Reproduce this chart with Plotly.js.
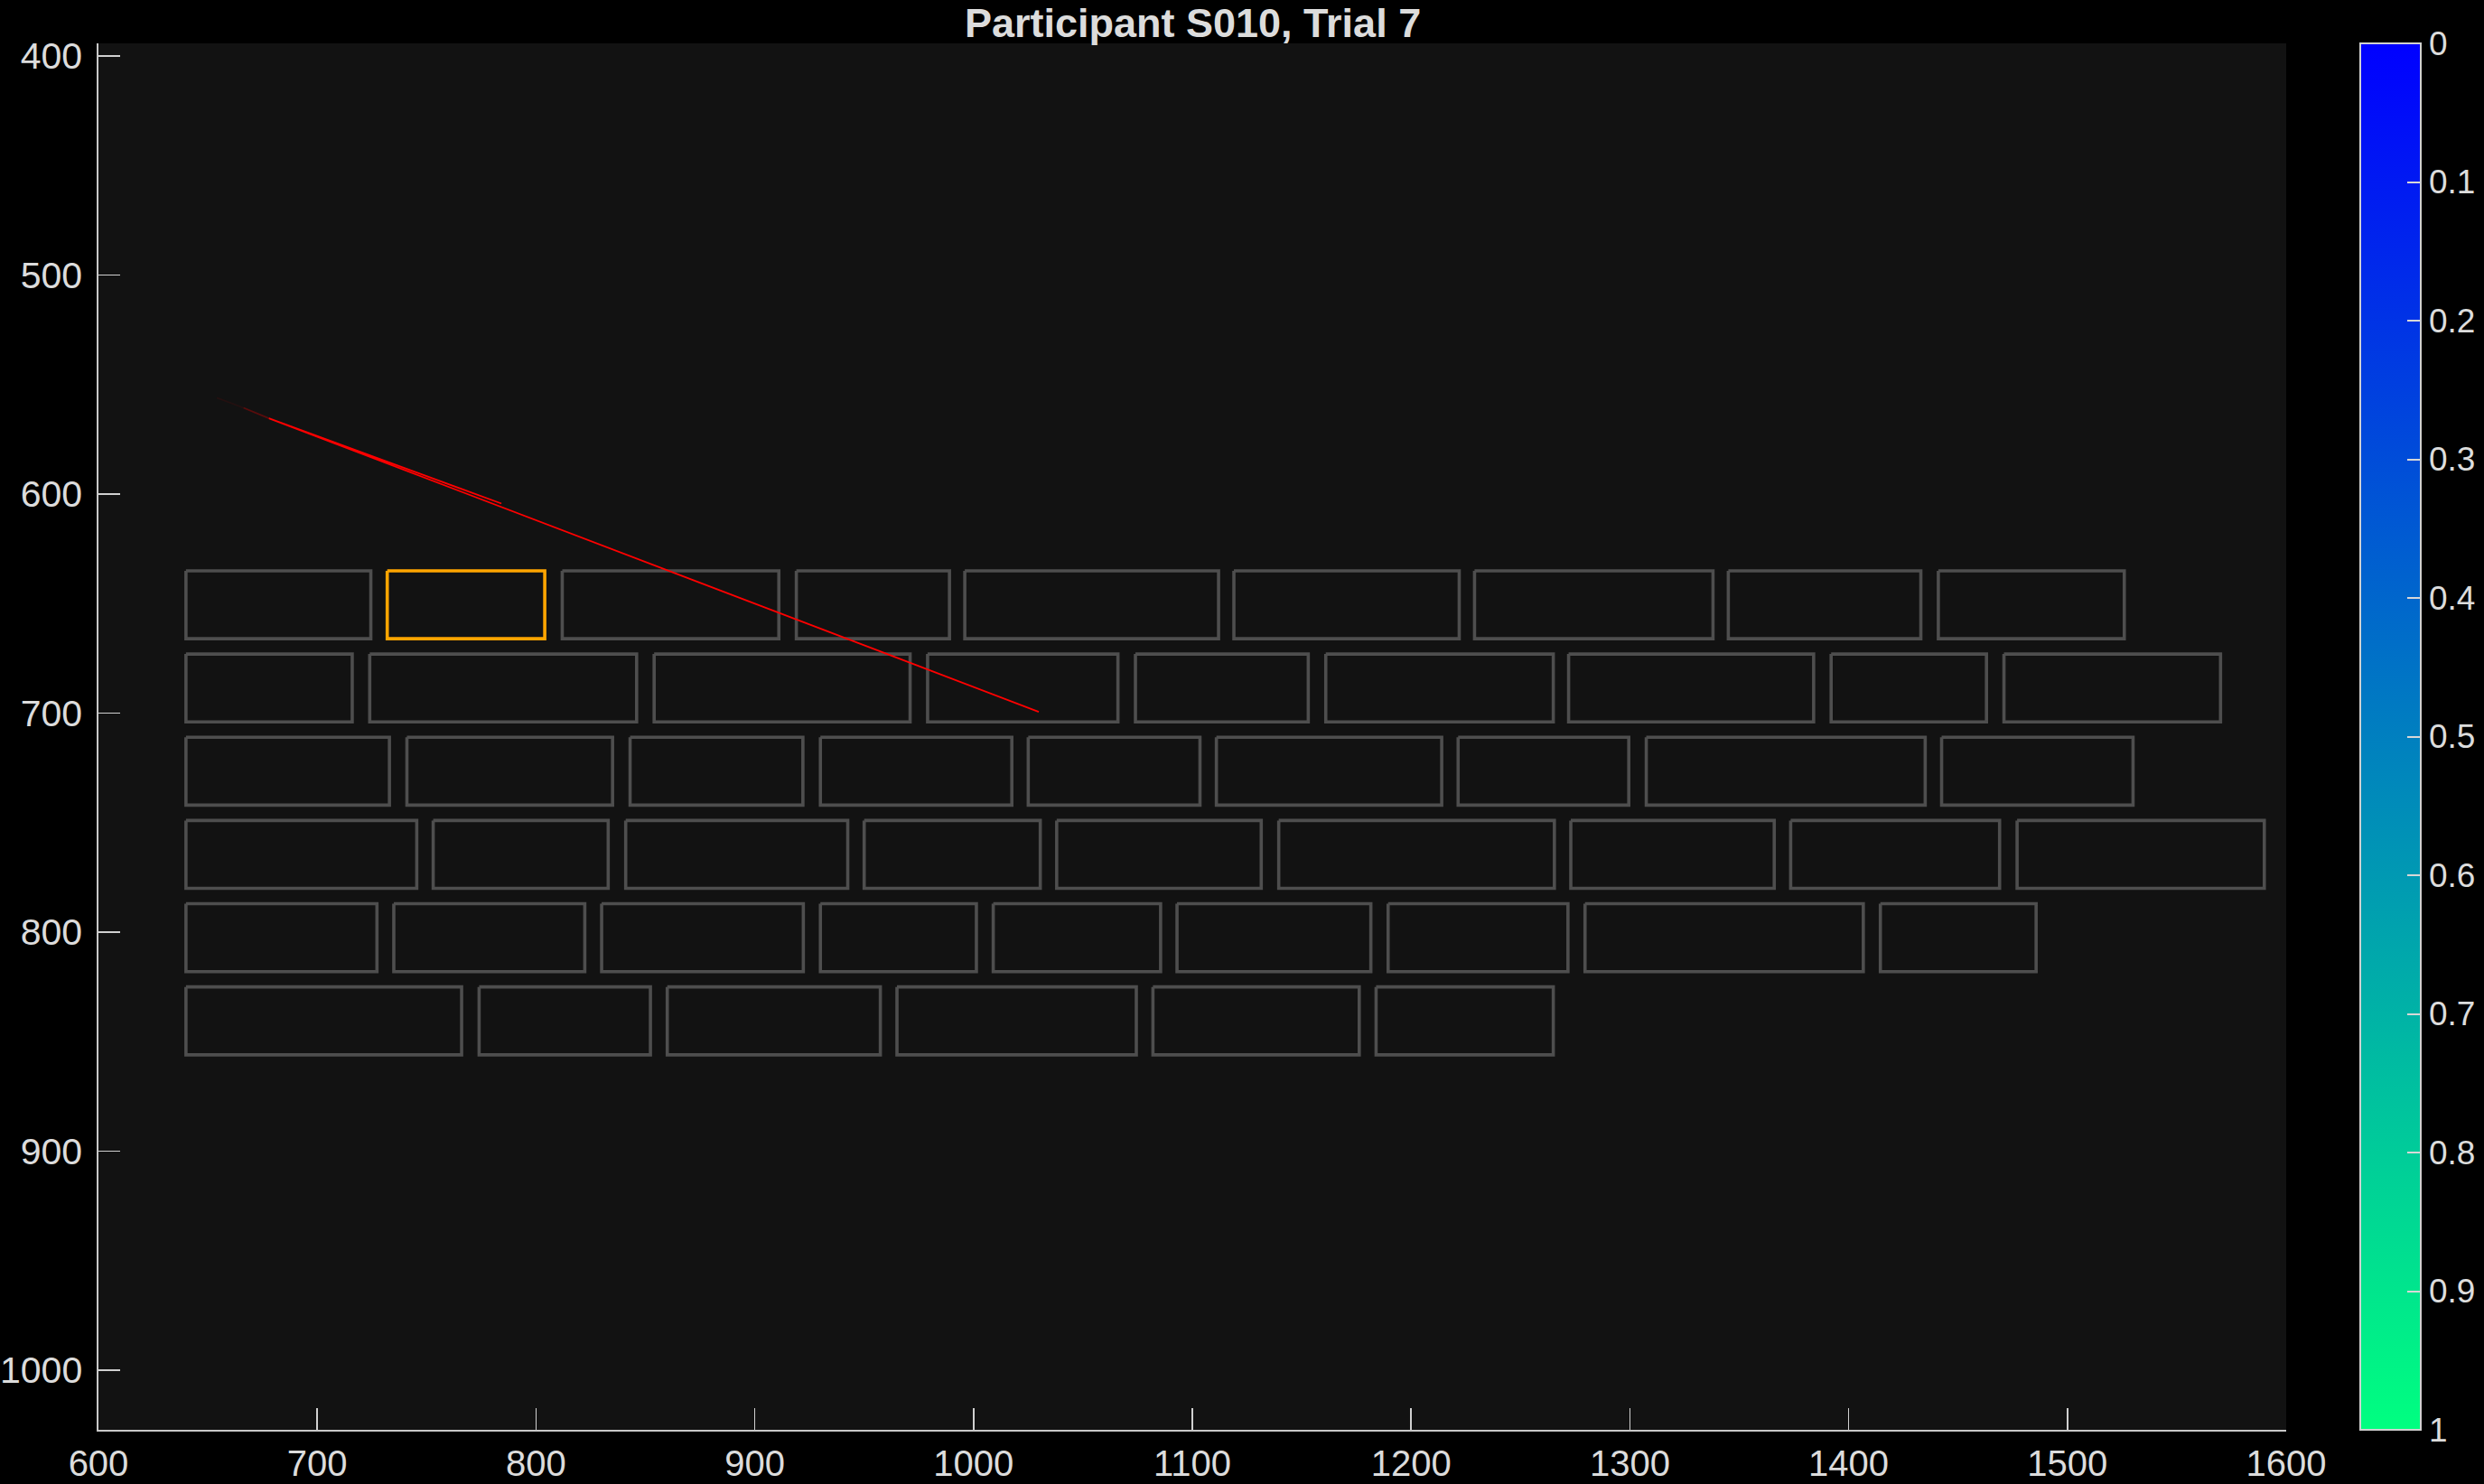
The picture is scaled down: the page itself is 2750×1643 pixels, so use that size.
<!DOCTYPE html>
<html><head><meta charset="utf-8">
<script src="https://cdn.plot.ly/plotly-3.0.1.min.js"></script>
<style>html,body{margin:0;padding:0;background:#000;overflow:hidden;}</style>
</head><body><div id="chart" style="width:2750px;height:1643px;"></div>
<script>
// ---- data ----
const rowTop    = [635, 673, 711, 749, 787, 825];
const rowBottom = [666, 704, 742, 780, 818, 856];

const boxRow   = [0,0,0,0,0,0,0,0,0,
                  1,1,1,1,1,1,1,1,1,
                  2,2,2,2,2,2,2,2,2,
                  3,3,3,3,3,3,3,3,3,
                  4,4,4,4,4,4,4,4,4,
                  5,5,5,5,5,5];
const boxLeft  = [640, 732, 812, 919, 996, 1119, 1229, 1345, 1441,
                  640, 724, 854, 979, 1074, 1161, 1272, 1392, 1471,
                  640, 741, 843, 930, 1025, 1111, 1221.5, 1307.5, 1442.5,
                  640, 753, 841, 950, 1038, 1139.5, 1273, 1373.5, 1477,
                  640, 735, 830, 930, 1009, 1093, 1189.5, 1279.5, 1414.5,
                  640, 774, 860, 965, 1082, 1184];
const boxRight = [724.5, 804, 911, 989, 1112, 1222, 1338, 1433, 1526,
                  716, 846, 971, 1066, 1153, 1265, 1384, 1463, 1570,
                  733, 835, 922, 1017.5, 1103.5, 1214, 1299.5, 1435, 1530,
                  745.5, 833, 942.5, 1030.5, 1131.5, 1265.5, 1366, 1469, 1590,
                  727.3, 822.3, 922.2, 1001.3, 1085.5, 1181.6, 1271.7, 1406.7, 1485.7,
                  766, 852.3, 957.4, 1074.4, 1176.3, 1265];
const targetIndex = 1;

const gazeFadeX = [654.1, 666.3, 677.9];
const gazeFadeY = [556.0, 560.6, 565.4];
const gazeX = [784.2, 677.9, 1029.8];
const gazeY = [604.3, 565.4, 699.4];

const xTicks = [600, 700, 800, 900, 1000, 1100, 1200, 1300, 1400, 1500, 1600];
const yTicks = [400, 500, 600, 700, 800, 900, 1000];
const cbarTicks = [0, 0.1, 0.2, 0.3, 0.4, 0.5, 0.6, 0.7, 0.8, 0.9, 1];
const titleText = 'Participant S010, Trial 7';

// ---- build ----
function boxPath(idxList) {
  const xs = [], ys = [];
  idxList.forEach(i => {
    const t = rowTop[boxRow[i]], b = rowBottom[boxRow[i]];
    xs.push(boxLeft[i], boxRight[i], boxRight[i], boxLeft[i], boxLeft[i], null);
    ys.push(t, t, b, b, t, null);
  });
  return {xs, ys};
}
const allIdx = boxLeft.map((_, i) => i).filter(i => i !== targetIndex);
const grey = boxPath(allIdx);
const tgt = boxPath([targetIndex]);

const font = 'Liberation Sans, Arial, Helvetica, sans-serif';
const txtColor = '#dcdcdc';

const traces = [
  {x: grey.xs, y: grey.ys, mode: 'lines', line: {color: '#4e4e4e', width: 3.6}, hoverinfo: 'skip'},
  {x: tgt.xs, y: tgt.ys, mode: 'lines', line: {color: '#ffa500', width: 3.6}, hoverinfo: 'skip'},
  {x: gazeFadeX.slice(0, 2), y: gazeFadeY.slice(0, 2), mode: 'lines', line: {color: 'rgba(255,0,0,0.08)', width: 1.8}},
  {x: gazeFadeX.slice(1, 3), y: gazeFadeY.slice(1, 3), mode: 'lines', line: {color: 'rgba(255,0,0,0.3)', width: 1.8}},
  {x: gazeX, y: gazeY, mode: 'lines', line: {color: '#ff0000', width: 1.8}},
  {x: gazeX.slice(0, 2), y: gazeY.slice(0, 2), mode: 'markers',
   marker: {size: 0, opacity: 0, color: [0, 1], cmin: 0, cmax: 1,
     colorscale: [[0, 'rgb(0,255,128)'], [1, 'rgb(0,0,255)']],
     showscale: true,
     colorbar: {
       x: 1.034, xanchor: 'left', xref: 'paper', y: 0.5, yanchor: 'middle',
       len: 1, lenmode: 'fraction', thickness: 67, thicknessmode: 'pixels',
       xpad: 0, ypad: 0, outlinecolor: '#d0d0d0', outlinewidth: 2,
       ticks: 'inside', ticklen: 16, tickwidth: 2, tickcolor: '#d8d8d8',
       tickvals: cbarTicks.map(v => 1 - v), ticktext: cbarTicks.map(v => String(v)),
       tickfont: {family: font, size: 37, color: txtColor},
       ticklabelposition: 'outside'
     }}}
];

const layout = {
  width: 2750, height: 1643,
  paper_bgcolor: '#000000', plot_bgcolor: '#121212',
  margin: {l: 109, r: 219, t: 48, b: 60, pad: 0, autoexpand: false},
  showlegend: false,
  hovermode: false,
  title: {text: '<b>' + titleText + '</b>', x: 0.4802, xanchor: 'center', xref: 'container',
          y: 0.9845, yanchor: 'middle', yref: 'container',
          font: {family: font, size: 45, color: txtColor}},
  xaxis: {range: [600, 1600], tickvals: xTicks, ticktext: xTicks.map(String),
          ticks: 'inside', ticklen: 24, tickwidth: 1.6, tickcolor: '#d0d0d0',
          showline: true, linecolor: '#c8c8c8', linewidth: 1.6, mirror: false,
          showgrid: false, zeroline: false,
          tickfont: {family: font, size: 40, color: txtColor}, ticklabelstandoff: 1},
  yaxis: {range: [1027.2, 394.2], tickvals: yTicks, ticktext: yTicks.map(String),
          ticks: 'inside', ticklen: 24, tickwidth: 1.6, tickcolor: '#d0d0d0',
          showline: true, linecolor: '#c8c8c8', linewidth: 1.6, mirror: false,
          showgrid: false, zeroline: false,
          tickfont: {family: font, size: 41, color: txtColor}, ticklabelstandoff: 8}
};

Plotly.newPlot('chart', traces, layout, {staticPlot: true, displayModeBar: false});
</script></body></html>
